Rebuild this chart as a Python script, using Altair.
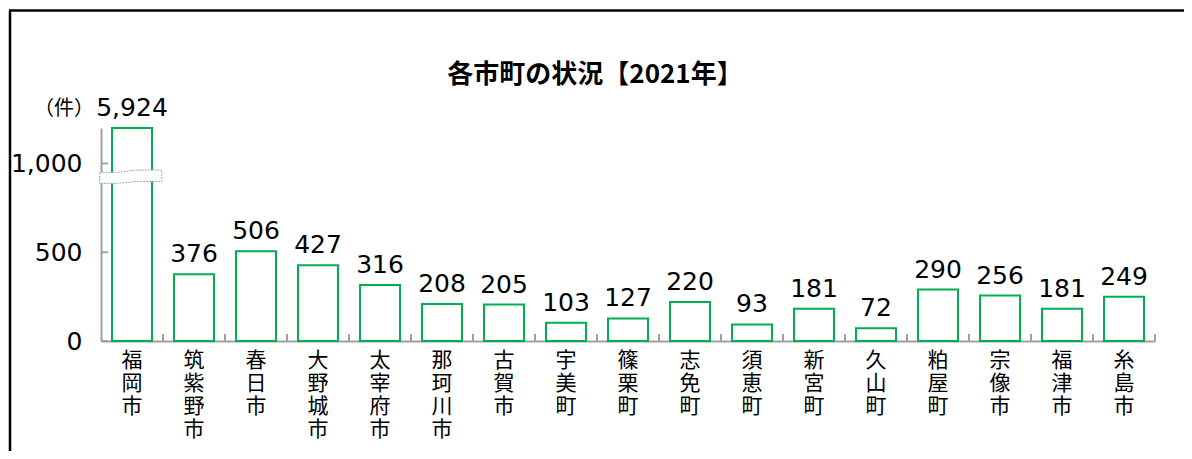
import altair as alt
import pandas as pd

cities = ["福岡市", "筑紫野市", "春日市", "大野城市", "太宰府市", "那珂川市", "古賀市", "宇美町",
          "篠栗町", "志免町", "須恵町", "新宮町", "久山町", "粕屋町", "宗像市", "福津市", "糸島市"]
values = [5924, 376, 506, 427, 316, 208, 205, 103, 127, 220, 93, 181, 72, 290, 256, 181, 249]
y_ticks = [0, 500, 1000]
y_max = 1200
# wavy axis-break symbol on the first bar (x in band units, y in data units)
break_x = [-0.02, 0.23, 0.39, 0.55, 0.79, 0.98]
break_top = [950, 950, 955, 962, 963, 962]
break_bottom = [888, 888, 892, 898, 899, 898]
title_text = "各市町の状況【2021年】"
unit_text = "（件）"

df = pd.DataFrame({"city": cities, "value": values})
brk_df = pd.DataFrame({"bx": break_x, "top": break_top, "bot": break_bottom})
one = alt.Data(values=[{"k": 0}])

W, H = 1054, 213
GREEN = "#00B050"
GRAY = "#A0A0A0"
NUM_FONT = "DejaVu Sans"
JP_FONT = "Noto Sans CJK JP"

xenc = alt.X("city:N", sort=cities,
             scale=alt.Scale(paddingInner=0, paddingOuter=0),
             axis=alt.Axis(title=None, labelAngle=0, ticks=False,
                           labelExpr="split(datum.label, '')",
                           labelBaseline="top", labelLineHeight=23, labelPadding=8,
                           labelFont=JP_FONT, labelFontSize=21, labelColor="#000",
                           domainColor=GRAY, domainWidth=2))
yscale = alt.Scale(domain=[0, y_max], clamp=True, nice=False)

base = alt.Chart(df)

bars = base.mark_bar(size=40, fill="white", stroke=GREEN, strokeWidth=2).encode(
    x=xenc,
    y=alt.Y("value:Q", scale=yscale,
            axis=alt.Axis(title=None, values=y_ticks, format=",d", ticks=False, grid=False,
                          labelFont=NUM_FONT, labelFontSize=25, labelColor="#000",
                          labelPadding=19, domainColor=GRAY, domainWidth=2)),
)

labels = base.mark_text(font=NUM_FONT, fontSize=25, color="#000", baseline="alphabetic", dy=-12).encode(
    x=alt.X("city:N", sort=cities),
    y=alt.Y("value:Q", scale=yscale),
    text=alt.Text("value:Q", format=","),
)

xticks = base.mark_rule(color=GRAY, strokeWidth=2).encode(
    x=alt.X("city:N", sort=cities, bandPosition=1),
    y=alt.value(H), y2=alt.value(H - 7),
)

yt = alt.Chart(pd.DataFrame({"t": y_ticks})).mark_rule(color=GRAY, strokeWidth=2).encode(
    y=alt.Y("t:Q", scale=yscale), x=alt.value(0), x2=alt.value(7),
)

title = alt.Chart(one).mark_text(text=title_text, font=JP_FONT, fontSize=26, fontWeight="bold",
                                 color="#000", baseline="middle", align="center").encode(
    x=alt.value(494), y=alt.value(-53))

unit = alt.Chart(one).mark_text(text=unit_text, font=JP_FONT, fontSize=20, color="#000",
                                baseline="middle", align="center").encode(
    x=alt.value(-37), y=alt.value(-19))

frame_left = alt.Chart(one).mark_rule(color="#000", strokeWidth=2.5).encode(
    x=alt.value(-91), y=alt.value(-117.5), y2=alt.value(340))
frame_top = alt.Chart(one).mark_rule(color="#000", strokeWidth=2.5).encode(
    x=alt.value(-92), x2=alt.value(1200), y=alt.value(-117.5))

main = alt.layer(bars, labels, xticks, yt, title, unit, frame_left, frame_top)

brk = alt.Chart(brk_df).mark_area(
    fill="white", stroke="#8FA8C0", strokeWidth=1, strokeDash=[2, 1], interpolate="monotone"
).encode(
    x=alt.X("bx:Q", scale=alt.Scale(domain=[0, len(cities)], nice=False, zero=False), axis=None),
    y=alt.Y("top:Q", scale=yscale),
    y2=alt.Y2("bot:Q"),
)

chart = alt.layer(main, brk).resolve_scale(x="independent").properties(
    width=W, height=H,
    autosize=alt.AutoSizeParams(type="none"),
    padding={"left": 93, "top": 120, "right": 29, "bottom": 110},
).configure_view(strokeWidth=0)

chart.save("out.html", embed_options={"renderer": "svg", "actions": False})
